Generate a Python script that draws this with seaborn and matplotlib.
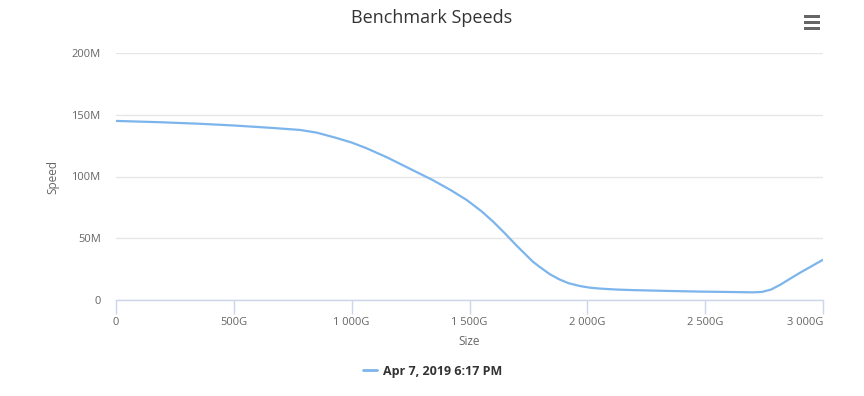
import matplotlib
matplotlib.use("Agg")
import matplotlib.pyplot as plt
from matplotlib.ticker import FuncFormatter, FixedLocator
import seaborn as sns
import pandas as pd

# Data (size in G, speed in M)
size_g = [0, 180, 356, 500, 650, 781, 852, 930, 1000, 1064, 1150, 1250, 1345,
          1420, 1488, 1550, 1600, 1650, 1700, 1769, 1800, 1840, 1880, 1920,
          1969, 2010, 2050, 2120, 2194, 2350, 2478, 2600, 2700, 2740, 2780,
          2820, 2860, 2900, 2950, 3000]
speed_m = [145, 144, 142.7, 141.3, 139.5, 137.7, 135.5, 131.5, 127.5, 122.8,
           115.5, 106, 97, 89, 81, 72, 63.5, 54, 44, 31, 26.5, 21, 16.8, 13.6,
           11.3, 10.0, 9.3, 8.5, 8, 7.3, 6.8, 6.5, 6.2, 6.5, 8.5, 12.5, 17.2,
           21.8, 27.2, 32.6]
series_name = "Apr 7, 2019 6:17 PM"
x_ticks = [0, 500, 1000, 1500, 2000, 2500, 3000]
y_ticks = [0, 50, 100, 150, 200]

df = pd.DataFrame({"Size": size_g, "Speed": speed_m, "series": series_name})

sns.set_theme(style="white")
plt.rcParams['font.family'] = ['Open Sans', 'DejaVu Sans']

fig = plt.figure(figsize=(8.64, 3.96), dpi=100)
ax = fig.add_axes([116/864, 1-300/396, (823-116)/864, (300-53)/396])

line_color = "#7cb5ec"
sns.lineplot(data=df, x="Size", y="Speed", hue="series", palette=[line_color],
             ax=ax, linewidth=1.6, legend=False)

ax.set_xlim(0, 3000)
ax.set_ylim(0, 200)
ax.xaxis.set_major_locator(FixedLocator(x_ticks))
ax.yaxis.set_major_locator(FixedLocator(y_ticks))

def fmt_x(v, pos):
    v = int(round(v))
    if v == 0:
        return "0"
    s = f"{v:,}".replace(",", " ")
    return s + "G"

def fmt_y(v, pos):
    v = int(round(v))
    return "0" if v == 0 else f"{v}M"

ax.xaxis.set_major_formatter(FuncFormatter(fmt_x))
ax.yaxis.set_major_formatter(FuncFormatter(fmt_y))

ax.grid(axis="y", color="#e6e6e6", linewidth=1)
ax.grid(axis="x", visible=False)
for s in ["top", "right", "left"]:
    ax.spines[s].set_visible(False)
ax.spines["bottom"].set_color("#ccd6eb")
ax.spines["bottom"].set_linewidth(1)

ax.tick_params(axis="x", colors="#ccd6eb", length=10, width=1, direction="out",
               labelcolor="#666666", labelsize=8, pad=2, bottom=True)
ax.tick_params(axis="y", length=0, labelcolor="#666666", labelsize=8, pad=11)

# last x label kept inside the plot edge, as in the reference
fig.canvas.draw()
xlabels = ax.get_xticklabels()
xlabels[-1].set_horizontalalignment("right")

ax.set_xlabel("Size", color="#666666", fontsize=8.5, labelpad=5)
ax.set_ylabel("Speed", color="#666666", fontsize=8.5, labelpad=9)

fig.text(432/864, 1-18/396, "Benchmark Speeds", ha="center", va="center",
         fontsize=13, color="#333333")

# Legend
handles = [plt.Line2D([], [], color=line_color, linewidth=2)]
leg = fig.legend(handles, [series_name], loc="center", bbox_to_anchor=(433/864, 1-371/396),
                 frameon=False, handlelength=1.1, handletextpad=0.5,
                 prop={"weight": "bold", "size": 9})
for t in leg.get_texts():
    t.set_color("#333333")

# Menu icon (three bars)
for yy in [16, 22, 28]:
    fig.add_artist(plt.Rectangle((804/864, 1-(yy+1.5)/396), 16/864, 3/396,
                                 transform=fig.transFigure, color="#666666", lw=0))

fig.savefig("out.png", dpi=100)
